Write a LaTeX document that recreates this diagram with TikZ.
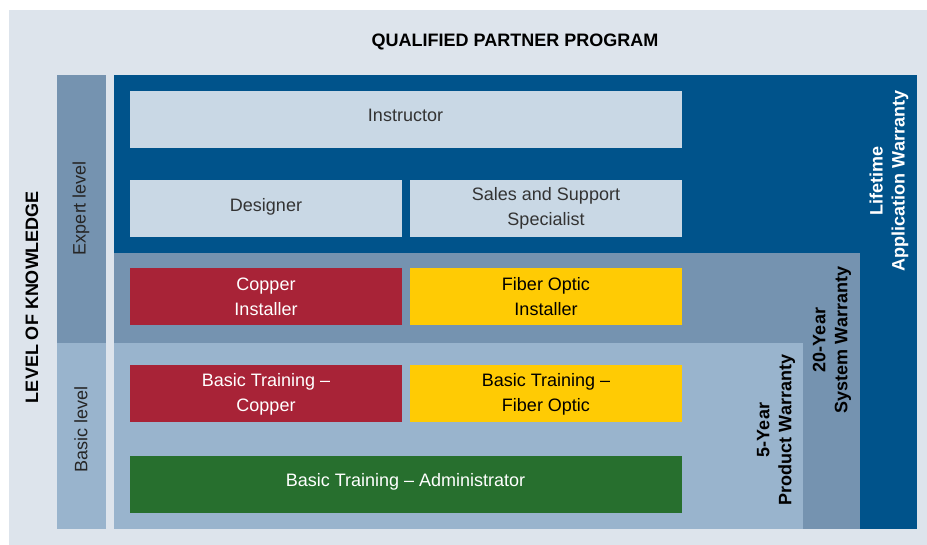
\documentclass[tikz,border=0pt]{standalone}
\usepackage{fontspec}
\setmainfont{Liberation Sans}
\usepackage{xcolor}
\usepackage{tikz}
\usetikzlibrary{positioning}

\definecolor{panelgray}{HTML}{DDE4EC}
\definecolor{deepblue}{HTML}{00538B}
\definecolor{midblue}{HTML}{7593B0}
\definecolor{paleblue}{HTML}{99B4CD}
\definecolor{boxblue}{HTML}{C9D8E5}
\definecolor{copperred}{HTML}{A82337}
\definecolor{fiberyellow}{HTML}{FFCB04}
\definecolor{admingreen}{HTML}{276F2E}

\begin{document}
\begin{tikzpicture}[x=1pt,y=-1pt,
  font=\fontsize{18}{25}\selectfont,
  role/.style={minimum width=#1,minimum height=57pt,inner sep=0pt,align=center},
  role/.default=272pt,
  oneline/.style={text depth=8pt},
  instbox/.style={role=552pt,oneline,fill=boxblue,text=black!80},
  expbox/.style={role,fill=boxblue,text=black!80},
  redbox/.style={role,fill=copperred,text=white},
  yelbox/.style={role,fill=fiberyellow,text=black},
  grnbox/.style={role=552pt,oneline,fill=admingreen,text=white},
  warranty/.style={rotate=90,align=center,font=\fontsize{18}{22}\selectfont\bfseries},
  levellabel/.style={rotate=90,text=black!85}]

  \useasboundingbox (0,0) rectangle (927,545);
  % --- background and bands ---
  \fill[white] (0,0) rectangle (927,545);
  \fill[panelgray] (9,10) rectangle (927,545);
  \fill[midblue] (57,75) rectangle (106,343);
  \fill[paleblue] (57,343) rectangle (106,529);
  \fill[deepblue] (114,75) rectangle (917,529);
  \fill[midblue] (114,253) rectangle (860,529);
  \fill[paleblue] (114,343) rectangle (803,529);

  % --- headings ---
  \node[font=\fontsize{18}{22}\selectfont\bfseries] (title) at (515,42) {QUALIFIED PARTNER PROGRAM};
  \node[rotate=90,font=\fontsize{18}{22}\selectfont\bfseries] (knowledge) at (32,297) {LEVEL OF KNOWLEDGE};
  \node[levellabel] (expert) at (81,208) {Expert level};
  \node[levellabel] (basic) at (81,429) {Basic level};

  % --- expert roles ---
  \node[instbox] (instructor) at (405.5,119.5) {Instructor};
  \node[expbox,oneline] (designer) at (266,208.5) {Designer};
  \node[expbox] (sales) at (546,208.5) {Sales and Support\\Specialist};

  % --- installers ---
  \node[redbox] (copper) at (266,297) {Copper\\Installer};
  \node[yelbox] (fiber) at (546,297) {Fiber Optic\\Installer};

  % --- basic training ---
  \node[redbox] (basiccopper) at (266,394) {Basic Training --\\Copper};
  \node[yelbox] (basicfiber) at (546,394) {Basic Training --\\Fiber Optic};
  \node[grnbox] (admin) at (405.5,484) {Basic Training -- Administrator};

  % --- warranties ---
  \node[warranty,text=white] (lifetime) at (889,181) {Lifetime\\Application Warranty};
  \node[warranty] (system) at (832,340) {20-Year\\System Warranty};
  \node[warranty] (product) at (776,430) {5-Year\\Product Warranty};
\end{tikzpicture}
\end{document}
